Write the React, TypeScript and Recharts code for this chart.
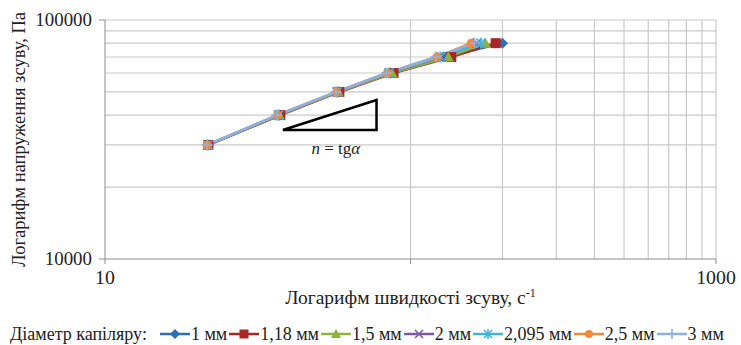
import React from 'react';
import { LineChart, Line, XAxis, YAxis, ReferenceLine, ReferenceDot, Legend } from 'recharts';

const stressLevels = [30000, 40000, 50000, 60000, 70000, 80000];
const rate1 = [21.8, 37.2, 58, 86, 128, 200];
const rate118 = [21.8, 37.5, 58.5, 88, 136, 190];
const rate15 = [21.7, 37.2, 58, 87, 133, 176];
const rate2 = [21.7, 37, 57.5, 85, 126, 165];
const rate2095 = [21.7, 37, 57.5, 85, 125, 170];
const rate25 = [21.6, 36.7, 57.3, 84, 122, 158];
const rate3 = [21.6, 36.5, 57, 83.5, 121, 162];

const seriesNames = ['1 мм', '1,18 мм', '1,5 мм', '2 мм', '2,095 мм', '2,5 мм', '3 мм'];
const seriesColors = ['#2F6DB5', '#A82828', '#8DB33E', '#7D58A6', '#41B4DE', '#F08A3A', '#8DB1DE'];
const seriesShapes = ['diamond', 'square', 'triangle', 'cross', 'star', 'circle', 'plus'];
const seriesRates = [rate1, rate118, rate15, rate2, rate2095, rate25, rate3];

const xTicks = [10, 100, 1000];
const xTickLabels = ['10', '', '1000'];
const yTicks = [10000, 100000];
const yTickLabels = ['10000', '100000'];
const xGrid = [100, 200, 300, 400, 500, 600, 700, 800, 900, 1000];
const yGrid = [20000, 30000, 40000, 50000, 60000, 70000, 80000, 90000, 100000];

const triangleX = [38.2, 77.4, 77.4, 38.2];
const triangleY = [34670, 34670, 46250, 34670];
const formulaX = 57;
const formulaY = 29000;

const FONT = '"Liberation Serif", "DejaVu Serif", serif';

const toPoints = (xs: number[], ys: number[]) => xs.map((x, i) => ({ x, y: ys[i] }));
const triangleData = toPoints(triangleX, triangleY);

function Marker({ cx, cy, shape, color, s = 4.5 }: any) {
  if (cx == null || cy == null) return null;
  switch (shape) {
    case 'diamond':
      return <path d={`M${cx},${cy - s - 1}L${cx + s + 1},${cy}L${cx},${cy + s + 1}L${cx - s - 1},${cy}Z`} fill={color} />;
    case 'square':
      return <rect x={cx - s - 0.5} y={cy - s - 0.5} width={2 * s + 1} height={2 * s + 1} fill={color} />;
    case 'triangle':
      return <path d={`M${cx},${cy - s - 1}L${cx + s + 1},${cy + s}L${cx - s - 1},${cy + s}Z`} fill={color} />;
    case 'cross':
      return (
        <g stroke={color} strokeWidth={1.6}>
          <line x1={cx - s} y1={cy - s} x2={cx + s} y2={cy + s} />
          <line x1={cx - s} y1={cy + s} x2={cx + s} y2={cy - s} />
        </g>
      );
    case 'star':
      return (
        <g stroke={color} strokeWidth={1.6}>
          <line x1={cx - s} y1={cy - s} x2={cx + s} y2={cy + s} />
          <line x1={cx - s} y1={cy + s} x2={cx + s} y2={cy - s} />
          <line x1={cx} y1={cy - s - 1} x2={cx} y2={cy + s + 1} />
        </g>
      );
    case 'circle':
      return <circle cx={cx} cy={cy} r={s} fill={color} />;
    case 'plus':
      return (
        <g stroke={color} strokeWidth={1.6}>
          <line x1={cx - s - 1} y1={cy} x2={cx + s + 1} y2={cy} />
          <line x1={cx} y1={cy - s - 1} x2={cx} y2={cy + s + 1} />
        </g>
      );
    default:
      return null;
  }
}

const XTick = (props: any) => {
  const { x, y, payload } = props;
  const label = xTickLabels[xTicks.indexOf(payload.value)] ?? '';
  if (!label) return null;
  return (
    <text
      x={0}
      y={0}
      dy="0.78em"
      transform={`translate(${x},${y}) scale(1.1,1)`}
      textAnchor="middle"
      fontFamily={FONT}
      fontSize={18}
      fill="#222"
    >
      {label}
    </text>
  );
};

const YTick = (props: any) => {
  const { x, y, payload } = props;
  const label = yTickLabels[yTicks.indexOf(payload.value)] ?? '';
  return (
    <text
      x={0}
      y={0}
      dy="0.35em"
      transform={`translate(${x},${y}) scale(1.05,1)`}
      textAnchor="end"
      fontFamily={FONT}
      fontSize={18}
      fill="#222"
    >
      {label}
    </text>
  );
};

const LegendContent = () => (
  <div
    style={{
      display: 'flex',
      alignItems: 'center',
      fontFamily: FONT,
      fontSize: 18,
      color: '#222',
      height: 22,
      paddingLeft: 10,
      whiteSpace: 'nowrap',
    }}
  >
    <span style={{ marginRight: 13 }}>Діаметр капіляру:</span>
    {seriesNames.map((name, i) => (
      <span key={name} style={{ display: 'flex', alignItems: 'center', marginRight: 2 }}>
        <svg width={30} height={14} style={{ marginRight: 1 }}>
          <line x1={0} y1={7} x2={30} y2={7} stroke={seriesColors[i]} strokeWidth={2.5} />
          <Marker cx={15} cy={7} shape={seriesShapes[i]} color={seriesColors[i]} s={4} />
        </svg>
        <span>{name}</span>
      </span>
    ))}
  </div>
);

export default function App() {
  return (
    <div style={{ position: 'absolute', left: 0, top: 0, background: '#fff' }}>
      <LineChart width={741} height={345} margin={{ top: 20, right: 25, bottom: 0, left: 0 }}>
        <XAxis
          type="number"
          dataKey="x"
          scale="log"
          domain={[10, 1000]}
          ticks={xTicks}
          allowDataOverflow
          height={64}
          stroke="#8c8c8c"
          tickSize={5}
          tickMargin={6}
          tick={<XTick />}
          label={{
            content: (props: any) => {
              const vb = props.viewBox || {};
              return (
                <text
                  x={vb.x + vb.width / 2}
                  y={vb.y + 45}
                  textAnchor="middle"
                  fontFamily={FONT}
                  fontSize={19.5}
                  fill="#222"
                >
                  Логарифм швидкості зсуву, с
                  <tspan dy={-7} fontSize={12}>-1</tspan>
                </text>
              );
            },
          }}
        />
        <YAxis
          type="number"
          dataKey="y"
          scale="log"
          domain={[10000, 100000]}
          ticks={yTicks}
          allowDataOverflow
          width={105}
          stroke="#8c8c8c"
          tickSize={6}
          tickMargin={7}
          tick={<YTick />}
          label={{
            content: (props: any) => {
              const vb = props.viewBox || {};
              const cx = vb.x + 19;
              const cy = vb.y + vb.height / 2;
              return (
                <text
                  x={cx}
                  y={cy}
                  transform={`rotate(-90 ${cx} ${cy})`}
                  textAnchor="middle"
                  dominantBaseline="central"
                  fontFamily={FONT}
                  fontSize={18.5}
                  fill="#222"
                >
                  Логарифм напруження зсуву, Па
                </text>
              );
            },
          }}
        />
        {xGrid.map((v) => (
          <ReferenceLine key={'vx' + v} x={v} stroke="#c9c9c9" strokeWidth={1.2} />
        ))}
        {yGrid.map((v) => (
          <ReferenceLine key={'hy' + v} y={v} stroke="#c9c9c9" strokeWidth={1.2} />
        ))}
        <Legend
          verticalAlign="bottom"
          align="left"
          height={22}
          wrapperStyle={{ bottom: 0, left: 0 }}
          content={<LegendContent />}
        />
        {seriesRates.map((rates, i) => (
          <Line
            key={seriesNames[i]}
            name={seriesNames[i]}
            data={toPoints(rates, stressLevels)}
            dataKey="y"
            stroke={seriesColors[i]}
            strokeWidth={2.5}
            isAnimationActive={false}
            dot={(p: any) => (
              <Marker key={`${i}-${p.index}`} cx={p.cx} cy={p.cy} shape={seriesShapes[i]} color={seriesColors[i]} />
            )}
            activeDot={false}
          />
        ))}
        <Line
          name="triangle"
          data={triangleData}
          dataKey="y"
          stroke="#000"
          strokeWidth={2.5}
          dot={false}
          activeDot={false}
          legendType="none"
          isAnimationActive={false}
        />
        <ReferenceDot
          x={formulaX}
          y={formulaY}
          r={0}
          stroke="none"
          fill="none"
          label={{
            content: (props: any) => {
              const vb = props.viewBox || {};
              const x = vb.cx ?? vb.x;
              const y = vb.cy ?? vb.y;
              return (
                <text x={x} y={y} textAnchor="middle" dominantBaseline="central" fontFamily={FONT} fontSize={17} fill="#222">
                  <tspan fontStyle="italic">n</tspan> = tg<tspan fontStyle="italic">α</tspan>
                </text>
              );
            },
          }}
        />
      </LineChart>
    </div>
  );
}
